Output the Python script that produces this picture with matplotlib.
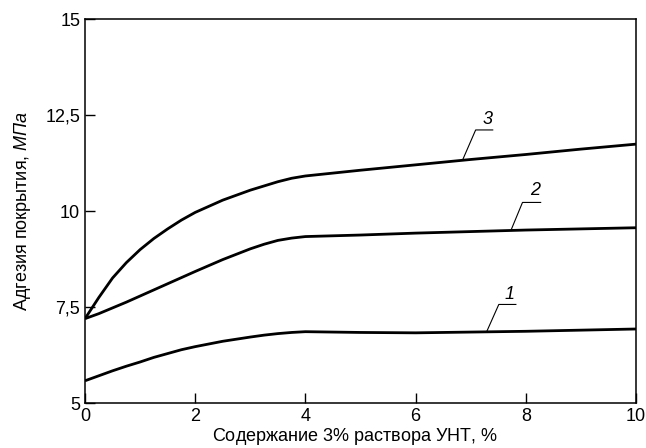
import matplotlib
matplotlib.use("Agg")
import matplotlib.pyplot as plt

plt.rcParams['font.family'] = ['Liberation Sans', 'DejaVu Sans']
plt.rcParams['mathtext.fontset'] = 'custom'
plt.rcParams['mathtext.rm'] = 'Liberation Sans'
plt.rcParams['mathtext.it'] = 'Liberation Sans:italic'

# Data
x_vals = [0, 0.25, 0.5, 0.75, 1, 1.25, 1.5, 1.75, 2, 2.5, 3, 3.25, 3.5, 3.75, 4,
          5, 6, 7, 8, 9, 10]
curve1 = [5.58, 5.71, 5.84, 5.96, 6.07, 6.19, 6.29, 6.39, 6.47, 6.61, 6.72, 6.77,
          6.81, 6.84, 6.86, 6.84, 6.83, 6.85, 6.87, 6.90, 6.93]
curve2 = [7.20, 7.33, 7.48, 7.63, 7.79, 7.95, 8.11, 8.27, 8.43, 8.74, 9.02, 9.14,
          9.24, 9.30, 9.34, 9.38, 9.43, 9.47, 9.51, 9.54, 9.57]
curve3 = [7.20, 7.75, 8.26, 8.66, 9.00, 9.29, 9.54, 9.77, 9.97, 10.29, 10.55, 10.66,
          10.77, 10.86, 10.92, 11.07, 11.21, 11.35, 11.48, 11.62, 11.75]

x_ticks = [0, 2, 4, 6, 8, 10]
y_ticks = [5, 7.5, 10, 12.5, 15]
y_tick_labels = ['5', '7,5', '10', '12,5', '15']

fig = plt.figure(figsize=(6.46, 4.48), dpi=100)
ax = fig.add_axes([0.1316, 0.1004, 0.8529, 0.8561])

for ys in (curve1, curve2, curve3):
    ax.plot(x_vals, ys, color='black', lw=2.0, solid_capstyle='butt',
            solid_joinstyle='round')

ax.set_xlim(0, 10)
ax.set_ylim(5, 15)
ax.set_xticks(x_ticks)
ax.set_xticklabels([str(t) for t in x_ticks])
ax.set_yticks(y_ticks)
ax.set_yticklabels(y_tick_labels)
ax.tick_params(direction='in', length=7, width=1.0, labelsize=13, pad=3.5, colors='black')
for s in ax.spines.values():
    s.set_linewidth(1.1)

ax.set_xlabel('Содержание 3% раствора УНТ, $\\it{\\%}$', fontsize=13)
ax.set_ylabel('Адгезия покрытия, $\\mathit{МПа}$', fontsize=13)
ax.xaxis.set_label_coords(0.49, -0.061)
ax.yaxis.set_label_coords(-0.095, 0.5)

# curve number annotations with leader lines
ann = [
    ('3', (6.86, 11.36), (7.09, 12.12), (7.40, 12.12), (7.30, 12.40)),
    ('2', (7.73, 9.50), (7.94, 10.23), (8.27, 10.23), (8.17, 10.53)),
    ('1', (7.29, 6.86), (7.51, 7.57), (7.82, 7.57), (7.70, 7.84)),
]
for lab, p0, p1, p2, pt in ann:
    ax.plot([p0[0], p1[0], p2[0]], [p0[1], p1[1], p2[1]], color='black', lw=0.8)
    ax.text(pt[0], pt[1], lab, fontsize=13, style='italic', ha='center', va='center')

fig.savefig('out.png', dpi=100)
